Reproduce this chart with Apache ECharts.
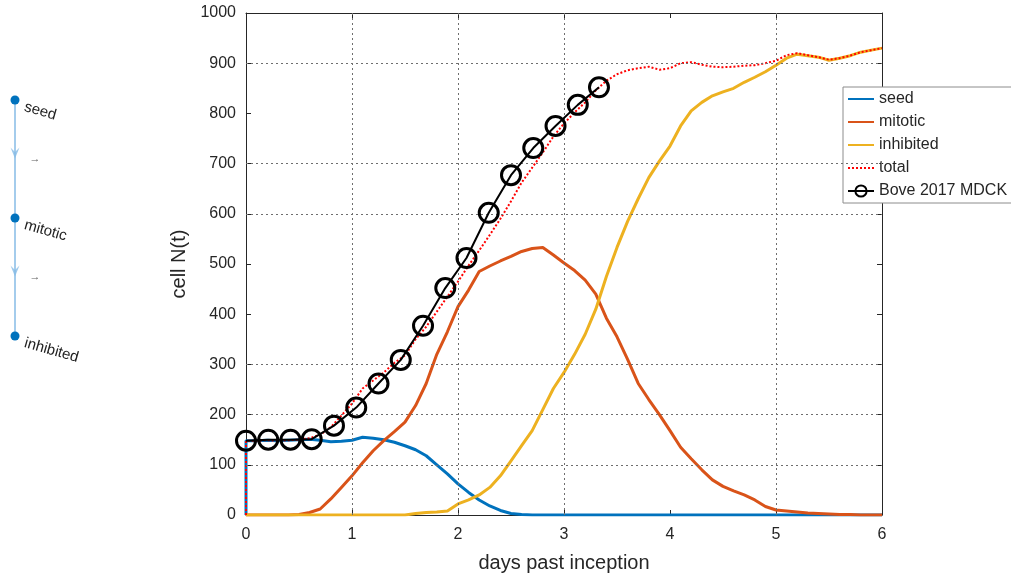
<!DOCTYPE html>
<html lang="en">

<head>
    <meta charset="UTF-8">
    <title>cell N(t)</title>
    <script src="https://cdn.jsdelivr.net/npm/echarts@6/dist/echarts.min.js"></script>
</head>

<body style="margin:0; background:#fff;">
    <div id="main" style="width: 1011px; height: 578px;"></div>
    <script>
        // simulation time axis (days); the first 0 is repeated for the jump at t=0
        var days = [0, 0, 0.1, 0.2, 0.3, 0.4, 0.5, 0.6, 0.7, 0.8, 0.9,
            1, 1.1, 1.2, 1.3, 1.4, 1.5, 1.6, 1.7, 1.8, 1.9,
            2, 2.1, 2.2, 2.3, 2.4, 2.5, 2.6, 2.7, 2.8, 2.9,
            3, 3.1, 3.2, 3.3, 3.4, 3.5, 3.6, 3.7, 3.8, 3.9,
            4, 4.1, 4.2, 4.3, 4.4, 4.5, 4.6, 4.7, 4.8, 4.9,
            5, 5.1, 5.2, 5.3, 5.4, 5.5, 5.6, 5.7, 5.8, 5.9, 6];

        var seed = [0, 148, 148, 149, 148, 149, 150, 151, 149, 146, 147,
            149, 155, 153, 150, 145, 138, 130, 118, 100, 82,
            62, 45, 30, 18, 9, 3, 1, 0, 0, 0,
            0, 0, 0, 0, 0, 0, 0, 0, 0, 0,
            0, 0, 0, 0, 0, 0, 0, 0, 0, 0,
            0, 0, 0, 0, 0, 0, 0, 0, 0, 0, 0];

        var mitotic = [0, 0, 0, 0, 0, 0, 1, 5, 12, 32, 55,
            78, 104, 128, 148, 166, 185, 218, 262, 320, 365,
            415, 448, 485, 496, 506, 515, 525, 531, 533, 518,
            502, 487, 468, 440, 392, 355, 310, 262, 230, 200,
            168, 135, 112, 90, 70, 57, 48, 40, 30, 17,
            10, 8, 6, 4, 3, 2, 1, 1, 0, 0, 0];

        var inhibited = [0, 0, 0, 0, 0, 0, 0, 0, 0, 0, 0,
            0, 0, 0, 0, 0, 0, 3, 5, 6, 8,
            22, 30, 40, 55, 78, 108, 138, 168, 210, 252,
            284, 320, 360, 410, 475, 533, 585, 630, 672, 705,
            735, 775, 805, 822, 835, 843, 850, 862, 872, 883,
            896, 910, 918, 915, 912, 906, 910, 915, 922, 926, 930];

        var total = [0, 148, 148, 149, 148, 149, 150, 153, 160, 175, 198,
            222, 252, 268, 284, 303, 318, 350, 375, 405, 435,
            465, 497, 527, 558, 590, 625, 662, 692, 722, 754,
            780, 802, 822, 846, 865, 878, 886, 890, 893, 887,
            890, 900, 902, 897, 893, 892, 893, 895, 896, 900,
            905, 916, 920, 916, 912, 907, 910, 915, 922, 926, 930];

        // Bove 2017 MDCK measurements
        var boveDays = [0, 0.21, 0.42, 0.62, 0.83, 1.04, 1.25, 1.46, 1.67,
            1.88, 2.08, 2.29, 2.50, 2.71, 2.92, 3.13, 3.33];
        var boveCells = [148, 150, 150, 151, 178, 214, 262, 309, 377,
            452, 512, 602, 677, 731, 775, 817, 852];

        // grid lines that show up in the picture
        var gridDays = [1, 2, 3, 5];
        var gridCells = [100, 200, 300, 600, 700, 900];

        // state diagram on the left
        var states = ['seed', 'mitotic', 'inhibited'];

        var font = 'Liberation Sans, Arial, sans-serif';
        var ink = '#262626';
        var gridCol = '#6e6e6e';

        function pairs(xs, ys) {
            return xs.map(function (x, i) { return [x, ys[i]]; });
        }

        var myChart = echarts.init(document.getElementById('main'));

        var option = {
            animation: false,
            backgroundColor: '#fff',
            grid: [
                { left: 246, right: 129, top: 13, bottom: 63 },
                { left: 5, width: 20, top: 100, height: 236 }
            ],
            xAxis: [{
                gridIndex: 0, type: 'value', min: 0, max: 6, interval: 1,
                name: 'days past inception', nameLocation: 'middle', nameGap: 38,
                nameTextStyle: { fontSize: 20, color: ink, fontFamily: font },
                axisLine: { show: true, onZero: false, lineStyle: { color: ink } },
                axisTick: { inside: true, length: 5, lineStyle: { color: ink } },
                axisLabel: { fontSize: 16, color: ink, fontFamily: font, margin: 12 },
                splitLine: { show: false }
            }, {
                gridIndex: 0, type: 'value', min: 0, max: 6, interval: 1, position: 'top',
                axisLine: { show: true, onZero: false, lineStyle: { color: ink } },
                axisTick: { inside: true, length: 5, lineStyle: { color: ink } },
                axisLabel: { show: false }, splitLine: { show: false }
            }, {
                gridIndex: 1, type: 'value', min: -1, max: 1, show: false
            }],
            yAxis: [{
                gridIndex: 0, type: 'value', min: 0, max: 1000, interval: 100,
                name: 'cell N(t)', nameLocation: 'middle', nameGap: 47,
                nameTextStyle: { fontSize: 20, color: ink, fontFamily: font },
                axisLine: { show: true, onZero: false, lineStyle: { color: ink } },
                axisTick: { inside: true, length: 5, lineStyle: { color: ink } },
                axisLabel: {
                    fontSize: 16, color: ink, fontFamily: font, margin: 10,
                    formatter: function (v) { return String(v); }
                },
                splitLine: { show: false }
            }, {
                gridIndex: 0, type: 'value', min: 0, max: 1000, interval: 100, position: 'right',
                axisLine: { show: true, onZero: false, lineStyle: { color: ink } },
                axisTick: { inside: true, length: 5, lineStyle: { color: ink } },
                axisLabel: { show: false }, splitLine: { show: false }
            }, {
                gridIndex: 1, type: 'value', min: 0, max: 2, inverse: true, show: false
            }],
            legend: {
                orient: 'vertical', left: 843, top: 87,
                itemWidth: 26, itemHeight: 14, itemGap: 7,
                padding: [4, 8, 4, 4],
                borderColor: '#8c8c8c', borderWidth: 1, backgroundColor: '#fff',
                textStyle: { fontSize: 16, color: ink, fontFamily: font },
                data: [
                    { name: 'seed', itemStyle: { opacity: 0 } },
                    { name: 'mitotic', itemStyle: { opacity: 0 } },
                    { name: 'inhibited', itemStyle: { opacity: 0 } },
                    { name: 'total', itemStyle: { opacity: 0 } },
                    'Bove 2017 MDCK'
                ]
            },
            series: [{
                name: 'grid', type: 'line', data: [], silent: true, z: 1,
                markLine: {
                    silent: true, symbol: 'none', animation: false,
                    label: { show: false },
                    lineStyle: { color: gridCol, type: [2, 3], width: 1 },
                    data: gridCells.map(function (v) { return { yAxis: v }; })
                        .concat(gridDays.map(function (v) { return { xAxis: v }; }))
                }
            }, {
                name: 'seed', type: 'line', symbol: 'none',
                data: pairs(days, seed),
                color: '#0072BD', lineStyle: { color: '#0072BD', width: 3 }
            }, {
                name: 'mitotic', type: 'line', symbol: 'none',
                data: pairs(days, mitotic),
                color: '#D95319', lineStyle: { color: '#D95319', width: 3 }
            }, {
                name: 'inhibited', type: 'line', symbol: 'none',
                data: pairs(days, inhibited),
                color: '#EDB120', lineStyle: { color: '#EDB120', width: 3 }
            }, {
                name: 'total', type: 'line', symbol: 'none',
                data: pairs(days, total),
                color: '#FF0000', lineStyle: { color: '#FF0000', width: 2, type: [2, 2] }
            }, {
                name: 'Bove 2017 MDCK', type: 'line', symbol: 'circle', symbolSize: 19,
                data: pairs(boveDays, boveCells),
                itemStyle: { color: 'rgba(255,255,255,0)', borderColor: '#000', borderWidth: 3 },
                lineStyle: { color: '#000', width: 2 },
                z: 5
            }, {
                // state diagram: nodes and edges
                name: 'states', type: 'line', xAxisIndex: 2, yAxisIndex: 2,
                data: states.map(function (s, i) { return [0, i]; }),
                symbol: 'circle', symbolSize: 9,
                itemStyle: { color: '#0072BD' },
                lineStyle: { color: '#86bbe6', width: 1.5 },
                label: {
                    show: true, position: 'right', distance: 7, rotate: -16,
                    offset: [0, 7], fontSize: 15, color: '#222', fontFamily: font,
                    formatter: function (p) { return states[p.dataIndex]; }
                }
            }, {
                // arrow heads half way along each edge
                name: 'edges', type: 'scatter', xAxisIndex: 2, yAxisIndex: 2,
                data: [[0, 0.45], [0, 1.45]],
                symbol: 'path://M0,0 L5,4 L10,0 L5,10 Z', symbolSize: [9, 11],
                itemStyle: { color: '#86bbe6' },
                label: {
                    show: true, position: 'right', distance: 10, offset: [0, 6],
                    fontSize: 11, color: '#333', formatter: '\u2192'
                }
            }]
        };

        myChart.setOption(option);
    </script>
</body>

</html>
